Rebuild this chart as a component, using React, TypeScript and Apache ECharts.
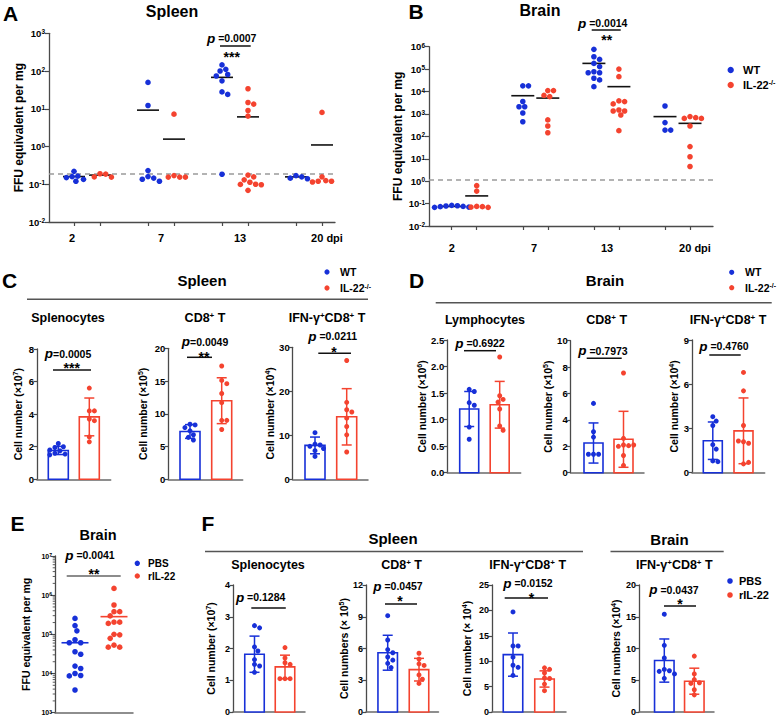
import React, { useEffect, useRef } from 'react';
import * as echarts from 'echarts';

const FONT = '"Liberation Sans", Arial, Helvetica, sans-serif';
const BLUE = '#1730d8';
const RED = '#f4432f';
const AXIS = '#4a4a4a';
const XAXIS = '#6a6a6a';

// ================= DATA =================
// A: Spleen, FFU equivalent per mg (WT vs IL-22-/-)
const dayLabels = ['2', '7', '13', '20 dpi'];
const spleenWT = [
  [0.22, 0.165, 0.16, 0.15, 0.135, 0.12],
  [50, 12.2, 0.23, 0.16, 0.146, 0.136, 0.12],
  [145, 111, 100, 81, 74, 55, 28, 24, 0.184],
  [0.17, 0.157, 0.145, 0.14],
];
const spleenKO = [
  [0.19, 0.186, 0.157, 0.155],
  [7.2, 0.17, 0.155, 0.155, 0.155],
  [34, 14.7, 13.3, 9.0, 6.4, 0.175, 0.157, 0.131, 0.113, 0.1, 0.099, 0.097, 0.069],
  [8.0, 0.157, 0.125, 0.12, 0.12, 0.115, 0.11],
];
const spleenWTMean = [0.16, 9.2, 68, 0.157];
const spleenKOMean = [0.175, 1.57, 6.1, 1.1];
const spleenLimit = 0.19;

// B: Brain, FFU equivalent per mg
const brainWT = [
  [0.083, 0.08, 0.078, 0.075, 0.073, 0.07, 0.068],
  [18000, 18000, 3600, 2100, 2100, 1100, 450],
  [760000, 355000, 270000, 180000, 130000, 76000, 69000, 69000, 39000, 33000, 16500],
  [2250, 410, 190, 190],
];
const brainKO = [
  [0.63, 0.36, 0.075, 0.073, 0.07, 0.068],
  [11000, 11000, 6700, 5900, 540, 290, 145],
  [100000, 46000, 3800, 3560, 2800, 1500, 1350, 1350, 900, 180],
  [760, 680, 630, 630, 290, 35, 12.3, 4.5],
];
const brainWTMean = [0.075, 6500, 180000, 760];
const brainKOMean = [0.22, 5100, 16500, 380];
const brainLimit = 1.1;

// C: Spleen cell numbers, WT vs IL-22-/-
const cSplenocytesWT = [2.2, 2.0, 1.95, 1.8, 1.75, 1.6, 1.55, 1.5];
const cSplenocytesKO = [5.6, 4.2, 4.2, 3.7, 3.6, 2.6, 2.3];
const cSplenocytesMean = [1.77, 3.83];
const cSplenocytesSD = [0.25, 1.16];
const cCD8WT = [8.4, 8.3, 7.9, 7.4, 6.8, 6.4, 6.0];
const cCD8KO = [17.3, 15.1, 14.6, 13.1, 11.7, 9.0, 9.0, 7.6];
const cCD8Mean = [7.3, 12.0];
const cCD8SD = [1.05, 3.5];
const cIFNWT = [10.6, 8.0, 7.8, 7.5, 7.0, 6.5, 5.2];
const cIFNKO = [27.0, 17.5, 15.8, 15.3, 13.9, 12.0, 10.1, 6.2];
const cIFNMean = [7.7, 14.2];
const cIFNSD = [1.9, 6.4];

// D: Brain cell numbers, WT vs IL-22-/-
const dLymphWT = [1.57, 1.53, 1.32, 1.27, 0.86, 0.63];
const dLymphKO = [2.18, 1.45, 1.38, 1.33, 1.2, 0.88, 0.8];
const dLymphMean = [1.2, 1.28];
const dLymphSD = [0.33, 0.44];
const dCD8WT = [5.25, 3.1, 2.7, 1.4, 1.4, 1.4];
const dCD8KO = [7.55, 2.6, 2.1, 2.05, 2.0, 2.1, 1.3, 0.55];
const dCD8Mean = [2.25, 2.53];
const dCD8SD = [1.52, 2.12];
const dIFNWT = [3.8, 3.5, 3.2, 1.9, 1.6, 0.8, 0.75];
const dIFNKO = [6.8, 5.55, 3.2, 2.1, 2.0, 2.15, 0.6, 0.7];
const dIFNMean = [2.17, 2.84];
const dIFNSD = [1.27, 2.23];

// E: Brain FFU, PBS vs rIL-22
const eBrainPBS = [255000, 167000, 123000, 73000, 61000, 61000, 36000, 31000, 15500, 13400, 10000, 8900, 8700, 3800];
const eBrainRIL22 = [1490000, 560000, 380000, 380000, 295000, 205000, 205000, 190000, 100000, 97000, 79000, 53000, 47000, 47000];
const eBrainMean = [61000, 283000];
const eMinorMultipliers = [2, 3, 4, 5, 6, 7, 8, 9];
const eDecades = [1e3, 1e4, 1e5, 1e6];

// F: cell numbers, PBS vs rIL-22
const fSplenocytesPBS = [2.72, 2.65, 2.05, 1.92, 1.65, 1.5, 1.45, 1.25];
const fSplenocytesRIL = [2.03, 1.7, 1.55, 1.5, 1.05, 1.05, 1.05];
const fSplenocytesMean = [1.82, 1.42];
const fSplenocytesSD = [0.57, 0.37];
const fCD8PBS = [9.1, 6.8, 5.9, 5.6, 5.2, 4.9, 4.6, 4.2];
const fCD8RIL = [5.55, 5.0, 4.55, 4.4, 3.5, 3.1, 2.7];
const fCD8Mean = [5.6, 4.0];
const fCD8SD = [1.65, 1.07];
const fIFNPBS = [19.7, 13.0, 13.0, 10.8, 9.2, 8.8, 7.2];
const fIFNRIL = [8.7, 8.4, 7.7, 6.7, 6.6, 5.5, 4.2];
const fIFNMean = [11.3, 6.5];
const fIFNSD = [4.25, 1.6];
const fBrainIFNPBS = [15.4, 10.5, 8.5, 6.7, 6.5, 6.4, 6.0, 5.3];
const fBrainIFNRIL = [8.8, 6.0, 5.1, 4.6, 4.5, 3.5, 2.7];
const fBrainIFNMean = [8.1, 4.85];
const fBrainIFNSD = [3.4, 2.05];

// ================= LAYOUT =================
const LAYOUT_A = { left: 49, top: 33.3, width: 286, height: 188.7, x0: 87, ppu: 74, pair: 13, labelPx: [72, 161, 240, 327], labelMargin: 10, nameGap: 19.5, meanHalf: 11, dot: 5.6 };
const LAYOUT_B = { left: 429, top: 46.7, width: 284, height: 179.3, x0: 464.2, ppu: 71.1, pair: 12.5, labelPx: [451.7, 534, 607, 695], labelMargin: 16, nameGap: 24.8, meanHalf: 11.5, dot: 5.6 };
const LAYOUT_E = { left: 55, top: 556, width: 78, height: 156.7, c0: 75, c1: 114, meanHalf: 13.5, dot: 5.6, nameGap: 23.5 };
const BAR_LAYOUT: any = {
  C1: { left: 37, top: 349, width: 73.7, height: 130.3, c0: 58.3, c1: 89.3, bw: 20, nameGap: 14 },
  C2: { left: 168.3, top: 348.3, width: 74.4, height: 131, c0: 190, c1: 221.7, bw: 20, nameGap: 20.3 },
  C3: { left: 292.7, top: 347.3, width: 75.3, height: 132, c0: 315, c1: 346.7, bw: 20, nameGap: 17.1 },
  D1: { left: 447.3, top: 340, width: 73.4, height: 132.7, c0: 469.2, c1: 499.7, bw: 19, nameGap: 17.7 },
  D2: { left: 570.7, top: 340.7, width: 73.3, height: 132, c0: 593.5, c1: 623.5, bw: 19, nameGap: 16.1 },
  D3: { left: 692, top: 340, width: 72.7, height: 132.7, c0: 712.8, c1: 743.5, bw: 19, nameGap: 10.7 },
  F1: { left: 233, top: 585, width: 72, height: 127, c0: 254.5, c1: 285, bw: 19.5, nameGap: 16.7 },
  F2: { left: 366, top: 585, width: 72.5, height: 127, c0: 387.7, c1: 419, bw: 19.5, nameGap: 16.7 },
  F3: { left: 492, top: 585, width: 74, height: 127, c0: 513, c1: 544.5, bw: 19.5, nameGap: 19.4 },
  F4: { left: 639, top: 585, width: 75, height: 127, c0: 664.3, c1: 694.3, bw: 19.5, nameGap: 18 },
};

type Pt = [number, number];
function swarm(values: number[], center: number, ppu: number, yPx: (v: number) => number, dot: number): Pt[] {
  const placed: { x: number; y: number }[] = [];
  const minDist = dot * 0.95;
  const step = dot * 0.34;
  return values.map((v) => {
    const y = yPx(v);
    let off = 0;
    for (let k = 0; k < 120; k++) {
      const o = (k % 2 === 1 ? 1 : -1) * Math.ceil(k / 2) * step;
      if (placed.every((p) => Math.hypot(p.x - o, p.y - y) >= minDist)) { off = o; break; }
    }
    placed.push({ x: off, y });
    return [center + off / ppu, v] as Pt;
  });
}

// wrap plain segments of a rich string in an explicit bold token
const wrapBold = (s: string) =>
  s.split(/(\{sup\|[^}]*\})/).map((part) => (part.startsWith('{sup|') ? part : part ? `{n|${part}}` : '')).join('');

const richAxis = (size: number, supSize: number) => ({
  n: { fontSize: size, fontWeight: 'bold', fontFamily: FONT, color: '#000' },
  sup: { fontSize: supSize, fontWeight: 'bold', fontFamily: FONT, color: '#000', verticalAlign: 'top' },
});
const supG = (size: number) => ({
  sup: { fontSize: size, fontWeight: 'bold', fontFamily: FONT, fill: '#000', verticalAlign: 'top' },
});

function buildOption() {
  const grids: any[] = [];
  const xAxes: any[] = [];
  const yAxes: any[] = [];
  const series: any[] = [];
  const G: any[] = [];

  const addGrid = (L: any) => {
    grids.push({ left: L.left, top: L.top, width: L.width, height: L.height, containLabel: false, outerBoundsMode: 'none' });
    return grids.length - 1;
  };
  const axisLineStyle = (c: string, w: number) => ({ show: true, onZero: false, lineStyle: { color: c, width: w } });
  const tickLabelStyle = (size: number) => ({ fontFamily: FONT, fontWeight: 'bold', fontSize: size, color: '#000' });
  const nameStyle = (size: number) => ({ fontFamily: FONT, fontWeight: 'bold', fontSize: size, color: '#000', rich: richAxis(size, size * 0.68) });

  const meanSeries = (gi: number, data: any[], half: number, colorOf: (g: number) => string) => ({
    type: 'custom', xAxisIndex: gi, yAxisIndex: gi, z: 4, silent: true, clip: false,
    encode: { x: 0, y: 1 },
    data,
    renderItem: (params: any, api: any) => {
      const p = api.coord([api.value(0), api.value(1)]);
      return { type: 'line', shape: { x1: p[0] - half, y1: p[1], x2: p[0] + half, y2: p[1] }, style: { stroke: colorOf(api.value(2)), lineWidth: 1.6 } };
    },
  });
  const dots = (gi: number, data: Pt[], color: string, size: number, extra: any = {}) => ({
    type: 'scatter', xAxisIndex: gi, yAxisIndex: gi, data, symbol: 'circle', symbolSize: size, z: 5, silent: true,
    itemStyle: { color, opacity: 1 }, ...extra,
  });

  // ---------- A & B : time course, log scale ----------
  const dayPanel = (L: any, wt: number[][], ko: number[][], wtMean: number[], koMean: number[], limit: number, yMin: number, yMax: number) => {
    const gi = addGrid(L);
    const xmin = (L.left - L.x0) / L.ppu;
    const xmax = (L.left + L.width - L.x0) / L.ppu;
    const off = L.pair / L.ppu;
    const ticks = dayLabels.flatMap((_, d) => [d - off, d + off]);
    const labelPos = L.labelPx.map((p: number) => (p - L.x0) / L.ppu);
    xAxes.push({
      gridIndex: gi, type: 'value', min: xmin, max: xmax,
      axisLine: axisLineStyle(AXIS, 1.3),
      axisTick: { show: true, customValues: ticks, length: 4, lineStyle: { color: AXIS, width: 1.2 } },
      axisLabel: {
        show: true, customValues: labelPos, margin: L.labelMargin, ...tickLabelStyle(11),
        formatter: (v: number) => {
          let best = 0;
          labelPos.forEach((p: number, i: number) => { if (Math.abs(p - v) < Math.abs(labelPos[best] - v)) best = i; });
          return dayLabels[best];
        },
      },
      splitLine: { show: false },
    });
    const decades = Math.log10(yMax) - Math.log10(yMin);
    yAxes.push({
      gridIndex: gi, type: 'log', logBase: 10, min: yMin, max: yMax, splitNumber: decades,
      axisLine: axisLineStyle(AXIS, 1.3),
      axisTick: { show: true, length: 4, lineStyle: { color: AXIS, width: 1.2 } },
      axisLabel: { margin: 4, ...tickLabelStyle(9.5), formatter: (v: number) => `{n|10}{sup|${Math.round(Math.log10(v))}}`, rich: richAxis(9.5, 6.5) },
      splitLine: { show: false }, minorTick: { show: false },
      name: wrapBold('FFU equivalent per mg'), nameLocation: 'middle', nameGap: L.nameGap, nameRotate: 90, nameTextStyle: nameStyle(12),
    });
    const pxPerDec = L.height / decades;
    const yPx = (v: number) => -Math.log10(v) * pxPerDec;
    const wtPts = wt.flatMap((vals, d) => swarm(vals, d - off, L.ppu, yPx, L.dot));
    const koPts = ko.flatMap((vals, d) => swarm(vals, d + off, L.ppu, yPx, L.dot));
    series.push(dots(gi, wtPts, BLUE, L.dot, {
      markLine: {
        silent: true, symbol: ['none', 'none'], label: { show: false }, animation: false,
        lineStyle: { color: '#9a9a9a', type: [5, 4], width: 1.5 },
        data: [{ yAxis: limit }],
      },
    }));
    series.push(dots(gi, koPts, RED, L.dot));
    const meanData = [
      ...wtMean.map((m, d) => [d - off, m, 0]),
      ...koMean.map((m, d) => [d + off, m, 1]),
    ];
    series.push(meanSeries(gi, meanData, L.meanHalf, () => '#111'));
  };
  dayPanel(LAYOUT_A, spleenWT, spleenKO, spleenWTMean, spleenKOMean, spleenLimit, 0.01, 1000);
  dayPanel(LAYOUT_B, brainWT, brainKO, brainWTMean, brainKOMean, brainLimit, 0.01, 1e6);

  // ---------- E : two groups, log scale ----------
  {
    const L = LAYOUT_E;
    const gi = addGrid(L);
    const ppu = L.c1 - L.c0;
    const xmin = (L.left - L.c0) / ppu;
    const xmax = (L.left + L.width - L.c0) / ppu;
    xAxes.push({ gridIndex: gi, type: 'value', min: xmin, max: xmax, axisLine: axisLineStyle(XAXIS, 1.5), axisTick: { show: false }, axisLabel: { show: false }, splitLine: { show: false } });
    yAxes.push({
      gridIndex: gi, type: 'log', logBase: 10, min: 1e3, max: 1e7, splitNumber: 4,
      axisLine: axisLineStyle(AXIS, 1.3),
      axisTick: { show: true, length: 4, lineStyle: { color: AXIS, width: 1.1 } },
      axisLabel: { margin: 3, ...tickLabelStyle(7), formatter: (v: number) => `{n|10}{sup|${Math.round(Math.log10(v))}}`, rich: richAxis(7, 5) },
      splitLine: { show: false },
      name: wrapBold('FFU equivalent per mg'), nameLocation: 'middle', nameGap: L.nameGap, nameRotate: 90, nameTextStyle: nameStyle(10.5),
    });
    const pxPerDec = L.height / 4;
    const yPx = (v: number) => -Math.log10(v) * pxPerDec;
    series.push(dots(gi, swarm(eBrainPBS, 0, ppu, yPx, L.dot), BLUE, L.dot));
    series.push(dots(gi, swarm(eBrainRIL22, 1, ppu, yPx, L.dot), RED, L.dot));
    series.push(meanSeries(gi, eBrainMean.map((m, i) => [i, m, i]), L.meanHalf, (g) => (g === 0 ? BLUE : RED)));
    const minor = eDecades.flatMap((d) => eMinorMultipliers.map((m) => [xmin, m * d]));
    series.push({
      type: 'custom', xAxisIndex: gi, yAxisIndex: gi, silent: true, clip: false, z: 3, encode: { x: 0, y: 1 },
      data: minor,
      renderItem: (params: any, api: any) => {
        const p = api.coord([api.value(0), api.value(1)]);
        return { type: 'line', shape: { x1: p[0] - 2.3, y1: p[1], x2: p[0], y2: p[1] }, style: { stroke: AXIS, lineWidth: 0.9 } };
      },
    });
  }

  // ---------- C, D, F : bar + SD + dots ----------
  const barPanel = (L: any, g0: number[], g1: number[], mean: number[], sd: number[], max: number, interval: number, name: string, decimals: number, tickSize: number) => {
    const gi = addGrid(L);
    const ppu = L.c1 - L.c0;
    const xmin = (L.left - L.c0) / ppu;
    const xmax = (L.left + L.width - L.c0) / ppu;
    xAxes.push({ gridIndex: gi, type: 'value', min: xmin, max: xmax, axisLine: axisLineStyle(XAXIS, 1.5), axisTick: { show: false }, axisLabel: { show: false }, splitLine: { show: false } });
    yAxes.push({
      gridIndex: gi, type: 'value', min: 0, max, interval,
      axisLine: axisLineStyle(AXIS, 1.3),
      axisTick: { show: true, length: 3.5, lineStyle: { color: AXIS, width: 1.2 } },
      axisLabel: { margin: 3, ...tickLabelStyle(tickSize), formatter: (v: number) => (decimals ? v.toFixed(decimals) : String(v)) },
      splitLine: { show: false },
      name: wrapBold(name), nameLocation: 'middle', nameGap: L.nameGap, nameRotate: 90, nameTextStyle: nameStyle(10.5),
    });
    const bw = L.bw;
    series.push({
      type: 'custom', xAxisIndex: gi, yAxisIndex: gi, z: 2, silent: true, clip: false,
      encode: { x: 0, y: 1 },
      data: mean.map((m, i) => [i, m, sd[i]]),
      renderItem: (params: any, api: any) => {
        const color = params.dataIndex === 0 ? BLUE : RED;
        const x = api.value(0), m = api.value(1), s = api.value(2);
        const top = api.coord([x, m]);
        const base = api.coord([x, 0]);
        const hi = api.coord([x, m + s]);
        const lo = api.coord([x, Math.max(0, m - s)]);
        const cap = 5;
        const st = { stroke: color, lineWidth: 1.5 };
        return {
          type: 'group',
          children: [
            { type: 'rect', shape: { x: top[0] - bw / 2, y: top[1], width: bw, height: base[1] - top[1] }, style: { fill: '#fff', stroke: color, lineWidth: 1.6 } },
            { type: 'line', shape: { x1: top[0], y1: hi[1], x2: top[0], y2: lo[1] }, style: st },
            { type: 'line', shape: { x1: top[0] - cap, y1: hi[1], x2: top[0] + cap, y2: hi[1] }, style: st },
            { type: 'line', shape: { x1: top[0] - cap, y1: lo[1], x2: top[0] + cap, y2: lo[1] }, style: st },
          ],
        };
      },
    });
    const yPx = (v: number) => (-v * L.height) / max;
    series.push(dots(gi, swarm(g0, 0, ppu, yPx, 5), BLUE, 5));
    series.push(dots(gi, swarm(g1, 1, ppu, yPx, 5), RED, 5));
  };

  barPanel(BAR_LAYOUT.C1, cSplenocytesWT, cSplenocytesKO, cSplenocytesMean, cSplenocytesSD, 8, 2, 'Cell number (×10{sup|7})', 0, 9.5);
  barPanel(BAR_LAYOUT.C2, cCD8WT, cCD8KO, cCD8Mean, cCD8SD, 20, 5, 'Cell number (×10{sup|5})', 0, 9.5);
  barPanel(BAR_LAYOUT.C3, cIFNWT, cIFNKO, cIFNMean, cIFNSD, 30, 10, 'Cell number (×10{sup|4})', 0, 9.5);
  barPanel(BAR_LAYOUT.D1, dLymphWT, dLymphKO, dLymphMean, dLymphSD, 2.5, 0.5, 'Cell number (×10{sup|6})', 1, 9.5);
  barPanel(BAR_LAYOUT.D2, dCD8WT, dCD8KO, dCD8Mean, dCD8SD, 10, 2, 'Cell number (×10{sup|5})', 0, 9.5);
  barPanel(BAR_LAYOUT.D3, dIFNWT, dIFNKO, dIFNMean, dIFNSD, 9, 3, 'Cell number (×10{sup|4})', 0, 9.5);
  barPanel(BAR_LAYOUT.F1, fSplenocytesPBS, fSplenocytesRIL, fSplenocytesMean, fSplenocytesSD, 4, 1, 'Cell number (×10{sup|7})', 0, 9);
  barPanel(BAR_LAYOUT.F2, fCD8PBS, fCD8RIL, fCD8Mean, fCD8SD, 12, 3, 'Cell numbers (× 10{sup|5})', 0, 9);
  barPanel(BAR_LAYOUT.F3, fIFNPBS, fIFNRIL, fIFNMean, fIFNSD, 25, 5, 'Cell number (× 10{sup|4})', 0, 9);
  barPanel(BAR_LAYOUT.F4, fBrainIFNPBS, fBrainIFNRIL, fBrainIFNMean, fBrainIFNSD, 20, 5, 'Cell numbers (×10{sup|4})', 0, 9);

  // ---------- graphic annotations ----------
  const text = (x: number, y: number, t: string, size: number, extra: any = {}) => {
    const align = extra.align || 'center';
    G.push({
      type: 'text', x, y, silent: true, z: 100,
      style: {
        text: t, fill: extra.fill || '#000', fontFamily: FONT, fontWeight: 'bold', fontSize: size,
        fontStyle: extra.italic ? 'italic' : 'normal',
        align, verticalAlign: 'middle', textAlign: align, textVerticalAlign: 'middle',
        rich: extra.rich,
      },
    });
  };
  const hl = (x1: number, x2: number, y: number, color = '#555', w = 1.5) => {
    G.push({ type: 'line', silent: true, z: 100, shape: { x1, y1: y, x2, y2: y }, style: { stroke: color, lineWidth: w } });
  };
  const legend = (cx: number, y1: number, y2: number, tx: number, labels: string[], size: number, r: number) => {
    [y1, y2].forEach((y, i) => {
      G.push({ type: 'circle', silent: true, z: 100, shape: { cx, cy: y, r }, style: { fill: i === 0 ? BLUE : RED } });
      text(tx, y, labels[i], size, { align: 'left', rich: supG(size * 0.65) });
    });
  };
  const pRich = {
    p: { fontSize: 13.5, fontStyle: 'italic', fontWeight: 'bold', fontFamily: FONT, fill: '#000' },
    v: { fontSize: 10.5, fontWeight: 'bold', fontFamily: FONT, fill: '#000' },
  };
  const pv = (x: number, y: number, v: string) => text(x, y, `{p|p}{v|${v}}`, 10.5, { rich: pRich });
  const star = (x: number, y: number, s: string) => text(x, y + 3.5, s, 14);

  // panel letters and titles
  text(10.5, 13, 'A', 21); text(172, 11.5, 'Spleen', 16);
  text(416, 11, 'B', 21); text(540, 10.5, 'Brain', 16);
  text(9.5, 280, 'C', 21); text(202, 280, 'Spleen', 15);
  text(416.5, 280, 'D', 21); text(605, 280, 'Brain', 15);
  text(17.5, 523, 'E', 21); text(98, 535, 'Brain', 14.5);
  text(208, 523, 'F', 21); text(393, 538, 'Spleen', 15); text(669.5, 539, 'Brain', 15);
  hl(27, 368, 299.3); hl(435.7, 771.7, 302.7); hl(205, 583, 551.5); hl(610.5, 723.7, 551.5);

  const sub = (x: number, y: number, t: string) => text(x, y, t, 12.5, { rich: supG(8) });
  sub(68, 318, 'Splenocytes'); sub(205, 318, 'CD8{sup|+} T'); sub(327, 318, 'IFN-γ{sup|+}CD8{sup|+} T');
  sub(485, 320, 'Lymphocytes'); sub(606.7, 320, 'CD8{sup|+} T'); sub(728, 320, 'IFN-γ{sup|+}CD8{sup|+} T');
  sub(268, 565, 'Splenocytes'); sub(401.6, 565, 'CD8{sup|+} T'); sub(527.7, 565, 'IFN-γ{sup|+}CD8{sup|+} T'); sub(674.3, 565, 'IFN-γ{sup|+}CD8{sup|+} T');

  // legends
  legend(730.7, 70, 85, 743, ['WT', 'IL-22{sup|-/-}'], 11, 3.2);
  legend(327, 272, 288, 340, ['WT', 'IL-22{sup|-/-}'], 10.5, 2.6);
  legend(731.7, 272.3, 287.7, 745, ['WT', 'IL-22{sup|-/-}'], 10.5, 2.6);
  legend(137.3, 563.3, 576, 148, ['PBS', 'rIL-22'], 10, 2.7);
  legend(730, 581, 595, 739, ['PBS', 'rIL-22'], 11, 2.8);

  // p-values and significance
  pv(231.7, 38, ' =0.0007'); hl(220, 250.7, 46, '#111'); star(231.7, 53, '***');
  pv(602.7, 23.3, ' =0.0014'); hl(591.7, 620.7, 30, '#111'); star(606.7, 36, '**');
  pv(68, 353.5, '=0.0005'); hl(53, 91, 370, '#111'); star(71.7, 364, '***');
  pv(205, 341.7, '=0.0049'); hl(187, 212, 357.3, '#111'); star(204, 353, '**');
  pv(332.7, 336, ' =0.0211'); hl(318.3, 351, 353.3, '#111'); star(334, 348, '*');
  pv(480, 343.3, ' =0.6922'); hl(464, 496, 350.7, '#111');
  pv(603, 350.7, ' =0.7973'); hl(586.7, 621.7, 358.3, '#111');
  pv(724, 346, ' =0.4760'); hl(709.3, 740.7, 355, '#111');
  pv(90, 555, ' =0.0041'); hl(66.7, 120.7, 576, '#666'); star(94, 570, '**');
  pv(260.6, 597, ' =0.1284'); hl(251.3, 285.8, 608, '#111');
  pv(398, 586, ' =0.0457'); hl(385, 417, 604, '#111'); star(400, 597.5, '*');
  pv(528, 583, ' =0.0152'); hl(504.7, 548, 598, '#111'); star(531.5, 594, '*');
  pv(674, 589.5, ' =0.0437'); hl(664, 696, 606, '#111'); star(680, 600.5, '*');

  return {
    animation: false,
    backgroundColor: '#ffffff',
    textStyle: { fontFamily: FONT },
    grid: grids,
    xAxis: xAxes,
    yAxis: yAxes,
    series,
    graphic: { elements: G },
  };
}

export default function App() {
  const ref = useRef<HTMLDivElement>(null);
  useEffect(() => {
    if (!ref.current) return;
    const chart = echarts.init(ref.current, null, { renderer: 'svg', width: 778, height: 718 });
    chart.setOption(buildOption() as any);
    return () => chart.dispose();
  }, []);
  return <div ref={ref} style={{ position: 'fixed', left: 0, top: 0, width: 778, height: 718, background: '#fff' }} />;
}
